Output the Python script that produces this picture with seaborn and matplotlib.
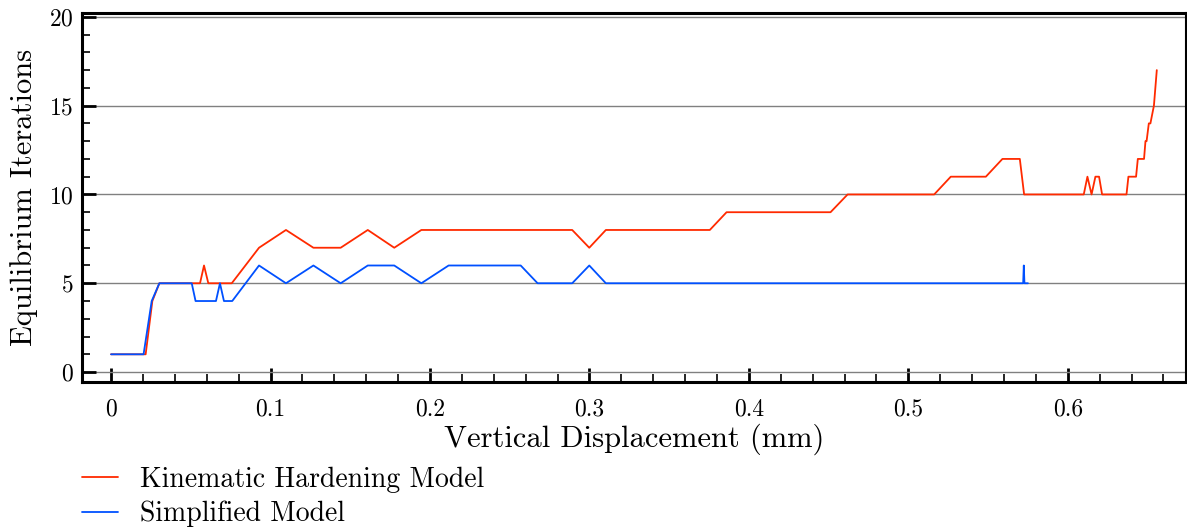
import numpy as np
import pandas as pd
import seaborn as sns
import matplotlib.pyplot as plt
from matplotlib.ticker import MultipleLocator

# values
kin_x = [0.0, 0.0217, 0.0259, 0.0303, 0.0558, 0.0583, 0.0610, 0.0757, 0.0928, 0.1097,
         0.1269, 0.1440, 0.1610, 0.1776, 0.1946, 0.2892, 0.2999, 0.3103, 0.3755, 0.3860,
         0.4512, 0.4619, 0.5162, 0.5266, 0.5486, 0.5590, 0.5699, 0.5726, 0.6100, 0.6123,
         0.6149, 0.6173, 0.6196, 0.6215, 0.6368, 0.6380, 0.6428, 0.6439, 0.6478, 0.6487,
         0.6494, 0.6508, 0.6518, 0.6540, 0.6558]
kin_y = [1, 1, 4, 5, 5, 6, 5, 5, 7, 8,
         7, 7, 8, 7, 8, 8, 7, 8, 8, 9,
         9, 10, 10, 11, 11, 12, 12, 10, 10, 11,
         10, 11, 11, 10, 10, 11, 11, 12, 12, 13,
         13, 14, 14, 15, 17]

simp_x = [0.0, 0.0204, 0.0255, 0.0303, 0.0506, 0.0530, 0.0658, 0.0683, 0.0708, 0.0760,
          0.0928, 0.1097, 0.1269, 0.1440, 0.1610, 0.1776, 0.1946, 0.2117, 0.2569, 0.2675,
          0.2892, 0.2999, 0.3103, 0.5720, 0.5724, 0.5728, 0.5750]
simp_y = [1, 1, 4, 5, 5, 4, 4, 5, 4, 4,
          6, 5, 6, 5, 6, 6, 5, 6, 6, 5,
          5, 6, 5, 5, 6, 5, 5]

series_names = ['Kinematic Hardening Model', 'Simplified Model']
xtick_vals = [0, 0.1, 0.2, 0.3, 0.4, 0.5, 0.6]
xtick_labels = ['0', '0.1', '0.2', '0.3', '0.4', '0.5', '0.6']
ytick_vals = [0, 5, 10, 15, 20]

sns.set_style("white")
plt.rcParams['font.family'] = ['cmr10', 'DejaVu Serif']
plt.rcParams['mathtext.fontset'] = 'cm'
plt.rcParams['axes.formatter.use_mathtext'] = True
plt.rcParams['text.color'] = 'black'
plt.rcParams['axes.labelcolor'] = 'black'
plt.rcParams['xtick.color'] = 'black'
plt.rcParams['ytick.color'] = 'black'

fig = plt.figure(figsize=(11.87, 5.28), dpi=100)
ax = fig.add_axes([0.0691, 0.2765, 0.9299, 0.699])

ax.yaxis.grid(True, color='#808080', linewidth=1.0)
ax.set_axisbelow(True)

sns.lineplot(x=kin_x, y=kin_y, color='#ff2a00', linewidth=1.3, sort=False,
             estimator=None, label=series_names[0], ax=ax)
sns.lineplot(x=simp_x, y=simp_y, color='#0050ff', linewidth=1.3, sort=False,
             estimator=None, label=series_names[1], ax=ax)

ax.set_xlim(-0.0182, 0.674)
ax.set_ylim(-0.56, 20.22)
ax.set_xticks(xtick_vals)
ax.set_xticklabels(xtick_labels)
ax.set_yticks(ytick_vals)
ax.xaxis.set_minor_locator(MultipleLocator(0.02))
ax.yaxis.set_minor_locator(MultipleLocator(1))
ax.tick_params(which='major', direction='in', length=10, width=2.0, labelsize=17,
               bottom=True, left=True, top=False, right=False, pad=12)
ax.tick_params(which='minor', direction='in', length=6, width=1.2,
               bottom=True, left=True, top=False, right=False)
ax.tick_params(axis='y', which='major', pad=6)

for side in ['left', 'bottom', 'top']:
    ax.spines[side].set_linewidth(2.2)
ax.spines['right'].set_linewidth(1.5)
for s in ax.spines.values():
    s.set_color('black')

ax.set_xlabel('Vertical Displacement (mm)', fontsize=22, labelpad=2)
ax.set_ylabel('Equilibrium Iterations', fontsize=22, labelpad=8)

ax.get_legend().remove()
handles, labels = ax.get_legend_handles_labels()
fig.legend(handles, labels, loc='upper left', bbox_to_anchor=(0.069, 0.117),
           frameon=False, fontsize=20, handlelength=1.3, handletextpad=0.8,
           labelspacing=0.3, borderaxespad=0, borderpad=0)

fig.savefig('out.png', dpi=100)
